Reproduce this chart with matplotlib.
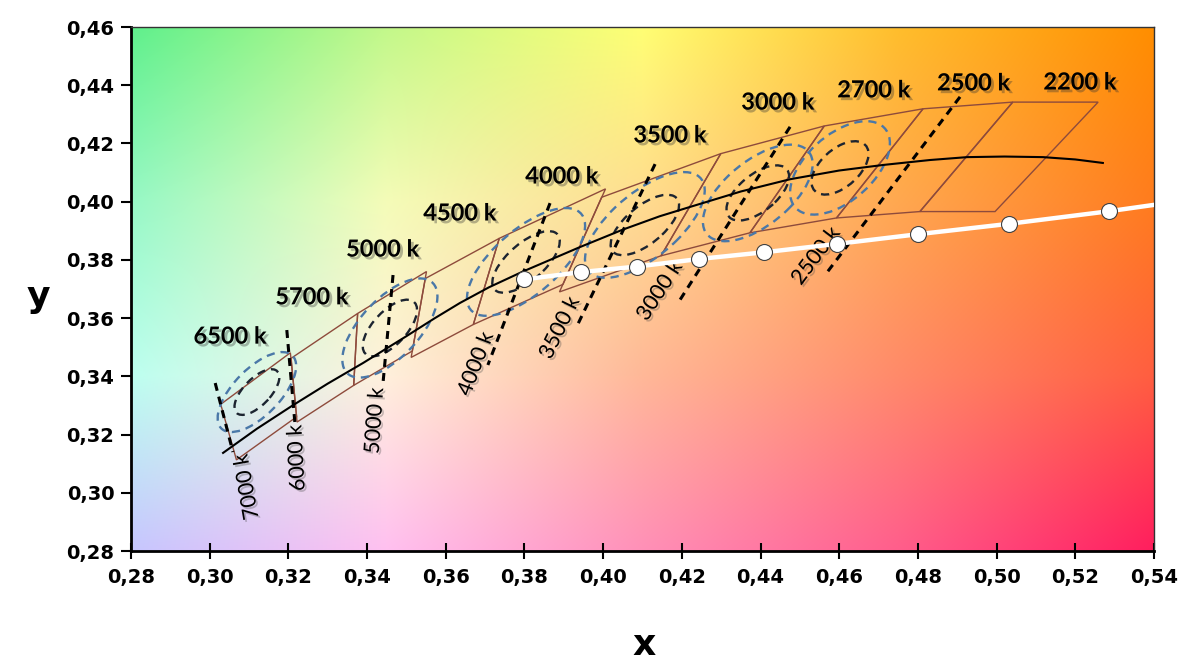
import matplotlib
matplotlib.use("Agg")
import matplotlib.pyplot as plt
import matplotlib.patheffects as pe
from matplotlib.patches import Ellipse, Polygon
import numpy as np


# Planckian locus (black line).
locus_x = [0.3034, 0.3120, 0.3212, 0.3300, 0.3390, 0.3500, 0.3570, 0.3636,
           0.3710, 0.3796, 0.3941, 0.4050, 0.4144, 0.4221, 0.4350, 0.4475,
           0.4600, 0.4711, 0.4830, 0.4925, 0.5020, 0.5118, 0.5200, 0.5270]
locus_y = [0.3137, 0.3220, 0.3301, 0.3375, 0.3446, 0.3538, 0.3598, 0.3652,
           0.3706, 0.3760, 0.3844, 0.3904, 0.3950, 0.3982, 0.4035, 0.4077,
           0.4107, 0.4126, 0.4143, 0.4153, 0.4155, 0.4153, 0.4145, 0.4133]

# ANSI quadrangles, corners in order TL, BL, BR, TR.
quad_cct = ["6500", "5700", "5000", "4500", "4000", "3500", "3000", "2700",
            "2500", "2200"]
quad_x = [[0.3028, 0.3068, 0.3221, 0.3205],
          [0.3207, 0.3222, 0.3366, 0.3376],
          [0.3376, 0.3366, 0.3515, 0.3551],
          [0.3548, 0.3512, 0.3670, 0.3736],
          [0.3736, 0.3670, 0.3898, 0.4006],
          [0.3996, 0.3889, 0.4147, 0.4299],
          [0.4299, 0.4147, 0.4373, 0.4562],
          [0.4562, 0.4373, 0.4593, 0.4813],
          [0.4813, 0.4593, 0.4805, 0.5041],
          [0.5041, 0.4805, 0.4996, 0.5258]]
quad_y = [[0.3304, 0.3113, 0.3261, 0.3481],
          [0.3462, 0.3243, 0.3369, 0.3616],
          [0.3616, 0.3369, 0.3487, 0.3760],
          [0.3736, 0.3465, 0.3578, 0.3874],
          [0.3874, 0.3578, 0.3716, 0.4044],
          [0.4015, 0.3690, 0.3814, 0.4165],
          [0.4165, 0.3814, 0.3893, 0.4260],
          [0.4260, 0.3893, 0.3944, 0.4319],
          [0.4319, 0.3944, 0.3966, 0.4342],
          [0.4342, 0.3966, 0.3966, 0.4342]]

# MacAdam ellipses: centres, 1-step semi axes and tilt.
ell_cct = ["6500", "5000", "4000", "3500", "3000", "2700"]
ell_x = [0.3120, 0.3458, 0.3804, 0.4106, 0.4393, 0.4602]
ell_y = [0.3346, 0.3566, 0.3793, 0.3920, 0.4030, 0.4116]
ell_a = [0.00223, 0.00274, 0.00313, 0.00309, 0.00278, 0.00258]
ell_b = [0.00095, 0.00118, 0.00134, 0.00138, 0.00136, 0.00137]
ell_theta = [58.23, 59.37, 53.72, 52.58, 53.13, 57.17]

# Isotemperature lines (dashed), from top point to bottom point.
iso_cct = ["7000 k", "6000 k", "5000 k", "4000 k", "3500 k", "3000 k", "2500 k"]
iso_x0 = [0.3014, 0.3196, 0.3466, 0.3865, 0.4132, 0.4475, 0.4907]
iso_y0 = [0.3377, 0.3559, 0.3748, 0.3995, 0.4129, 0.4257, 0.4360]
iso_x1 = [0.3059, 0.3217, 0.3440, 0.3707, 0.3931, 0.4195, 0.4564]
iso_y1 = [0.3140, 0.3233, 0.3370, 0.3439, 0.3566, 0.3662, 0.3748]

# White line with markers.
white_x = [0.3800, 0.3943, 0.4085, 0.4243, 0.4408, 0.4595, 0.4799, 0.5032,
           0.5285]
white_y = [0.3733, 0.3758, 0.3777, 0.3803, 0.3826, 0.3855, 0.3888, 0.3924,
           0.3967]
white_end_x = 0.5400
white_end_y = 0.3989

# Nominal CCT labels above the band.
top_labels = ["6500 k", "5700 k", "5000 k", "4500 k", "4000 k", "3500 k",
              "3000 k", "2700 k", "2500 k", "2200 k"]

# Layout of texts (data coordinates).
top_label_pos = [(0.3052, 0.3538), (0.3260, 0.3673), (0.3440, 0.3837),
                 (0.3636, 0.3961), (0.3895, 0.4088), (0.4170, 0.4229),
                 (0.4444, 0.4342), (0.4688, 0.4384), (0.4942, 0.4408),
                 (0.5212, 0.4411)]
iso_label_pos = [(0.3095, 0.3020, 100), (0.3222, 0.3119, 93),
                 (0.3420, 0.3247, 86), (0.3677, 0.3442, 69),
                 (0.3890, 0.3566, 64), (0.4144, 0.3693, 57),
                 (0.4541, 0.3813, 53)]

# Background colour grid (rows top to bottom, columns left to right).
bg_colors = [["#5ef08c", "#c2f88a", "#ffff74", "#ffbe2c", "#ff8e00"],
             ["#96f8c6", "#f4fcb8", "#ffdc90", "#ffa850", "#ff7c1e"],
             ["#bcfff0", "#fff0dc", "#ffb898", "#ff8a6a", "#ff5e40"],
             ["#c6c6ff", "#ffc0f0", "#ff90b8", "#ff5e8c", "#ff1e5e"]]

XMIN, XMAX, YMIN, YMAX = 0.28, 0.54, 0.28, 0.46

fig = plt.figure(figsize=(11.8, 6.63), dpi=100)
ax = fig.add_axes([131 / 1180, 1 - 551 / 663, 1023 / 1180, 524 / 663])

# Background gradient.
rgb = np.array([[matplotlib.colors.to_rgb(c) for c in row] for row in bg_colors])
nr, nc = rgb.shape[:2]
dx = (XMAX - XMIN) / (nc - 1)
dy = (YMAX - YMIN) / (nr - 1)
ax.imshow(rgb, extent=[XMIN - dx / 2, XMAX + dx / 2, YMIN - dy / 2, YMAX + dy / 2],
          interpolation="bilinear", aspect="auto", zorder=0)

# Quadrangles.
for qx, qy in zip(quad_x, quad_y):
    ax.add_patch(Polygon(list(zip(qx, qy)), closed=True, fill=False,
                         edgecolor="#8e4b3c", lw=1.0, zorder=2))

# Ellipses: 7-step blue, 4-step black.
for cx, cy, a, b, t in zip(ell_x, ell_y, ell_a, ell_b, ell_theta):
    ax.add_patch(Ellipse((cx, cy), 2 * a * 7, 2 * b * 7, angle=t, fill=False,
                         edgecolor="#4a78a8", lw=1.7, ls=(0, (3.5, 2.5)),
                         zorder=3))
    ax.add_patch(Ellipse((cx, cy), 2 * a * 4, 2 * b * 4, angle=t, fill=False,
                         edgecolor="#1c2430", lw=1.7, ls=(0, (3.5, 2.5)),
                         zorder=3))

# Planckian locus.
ax.plot(locus_x, locus_y, color="black", lw=1.5, zorder=4)

# Isotemperature lines and their labels.
for i, lab in enumerate(iso_cct):
    ax.plot([iso_x0[i], iso_x1[i]], [iso_y0[i], iso_y1[i]], color="black",
            lw=2.2, dashes=(2.6, 2.0), zorder=5)
    lx, ly, rot = iso_label_pos[i]
    ax.text(lx, ly, lab, rotation=rot, rotation_mode="anchor", ha="center",
            va="center", fontsize=15.5, family="Lato", color="black", zorder=6,
            path_effects=[pe.withSimplePatchShadow(offset=(1.5, -1.5),
                                                    shadow_rgbFace="#444444",
                                                    alpha=0.3)])

# White line with markers.
ax.plot(white_x + [white_end_x], white_y + [white_end_y], color="white",
        lw=3.2, zorder=6)
ax.plot(white_x, white_y, ls="none", marker="o", ms=11.5,
        markerfacecolor="white", markeredgecolor="#404040",
        markeredgewidth=0.8, zorder=7)

# Nominal CCT labels.
for lab, (lx, ly) in zip(top_labels, top_label_pos):
    ax.text(lx, ly, lab, ha="center", va="center", fontsize=17,
            fontweight="bold", family="Lato", color="black", zorder=8,
            path_effects=[pe.withSimplePatchShadow(offset=(2, -2),
                                                    shadow_rgbFace="#333333",
                                                    alpha=0.35)])

# Axes configuration.
ax.set_xlim(XMIN, XMAX)
ax.set_ylim(YMIN, YMAX)
xt = np.round(np.arange(0.28, 0.5401, 0.02), 2)
yt = np.round(np.arange(0.28, 0.4601, 0.02), 2)
ax.set_xticks(xt)
ax.set_yticks(yt)
ax.set_xticklabels([f"{v:.2f}".replace(".", ",") for v in xt],
                   fontsize=14, fontweight="bold")
ax.set_yticklabels([f"{v:.2f}".replace(".", ",") for v in yt],
                   fontsize=14, fontweight="bold")
ax.tick_params(axis="x", direction="inout", length=12, width=1.5, pad=6)
ax.tick_params(axis="y", direction="out", length=7, width=1.5, pad=5)
for s in ["left", "bottom"]:
    ax.spines[s].set_linewidth(2)
for s in ["top", "right"]:
    ax.spines[s].set_linewidth(1)
    ax.spines[s].set_color("#333333")

fig.text(38 / 1180, 1 - 297 / 663, "y", fontsize=26, fontweight="bold",
         ha="center", va="center")
fig.text(644 / 1180, 1 - 645 / 663, "x", fontsize=26, fontweight="bold",
         ha="center", va="center")

plt.savefig("out.png", dpi=100)
plt.close()
